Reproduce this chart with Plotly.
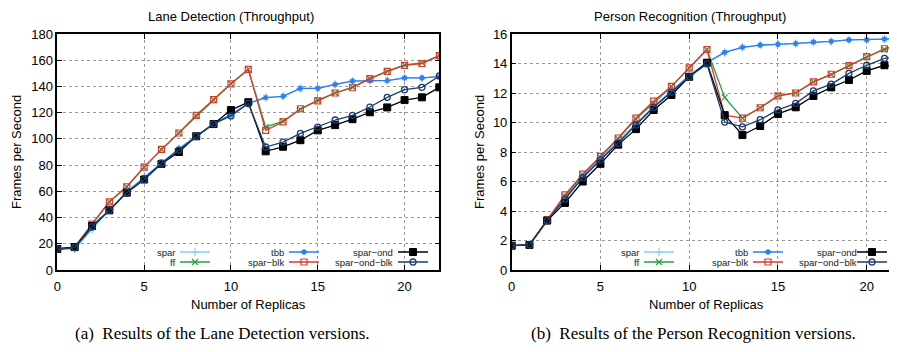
import plotly.graph_objects as go

# ---------------- data ----------------
replicas = list(range(23))
series_names = ["spar", "ff", "tbb", "spar−blk", "spar−ond", "spar−ond−blk"]

lane_spar = [16.0, 16.0, 31.0, 46.0, 59.5, 70.5, 81.5, 92.5, 102.0, 111.5, 118.5, 127.0, 131.5, 132.5, 138.5, 138.5, 141.5, 144.0, 144.5, 144.5, 146.5, 146.5, 147.5]
lane_ff = [16.0, 17.5, 35.0, 52.0, 63.5, 78.5, 92.0, 104.5, 117.5, 130.0, 142.0, 153.0, 109.0, 113.5, 122.5, 129.5, 135.0, 139.5, 146.0, 151.5, 156.5, 158.0, 163.5]
lane_tbb = [16.0, 16.5, 32.0, 46.0, 59.5, 70.5, 81.5, 92.5, 102.0, 111.5, 118.5, 127.0, 131.5, 132.5, 138.5, 138.5, 141.5, 144.0, 144.5, 144.5, 146.5, 146.5, 147.5]
lane_spar_blk = [16.0, 17.5, 35.0, 52.0, 63.5, 78.5, 92.0, 104.5, 118.0, 130.0, 142.0, 153.0, 106.5, 113.0, 123.0, 129.0, 135.0, 139.0, 146.0, 151.5, 156.0, 157.5, 163.5]
lane_spar_ond = [16.0, 17.5, 33.5, 45.5, 59.0, 69.0, 81.0, 90.0, 102.0, 111.3, 122.0, 128.0, 90.5, 94.0, 99.0, 106.5, 110.5, 115.0, 120.3, 124.0, 129.6, 131.7, 139.3]
lane_spar_ond_blk = [16.0, 17.0, 33.0, 45.5, 59.0, 69.0, 81.5, 91.5, 102.0, 111.5, 117.5, 127.0, 93.8, 97.6, 104.2, 109.0, 114.4, 118.0, 124.3, 131.7, 137.5, 139.3, 148.0]

person_spar = [1.65, 1.7, 3.35, 4.9, 6.35, 7.55, 8.7, 9.95, 11.1, 12.15, 13.2, 14.1, 14.75, 15.1, 15.25, 15.3, 15.35, 15.45, 15.5, 15.6, 15.6, 15.65, 15.7]
person_ff = [1.65, 1.7, 3.4, 5.0, 6.45, 7.65, 8.9, 10.25, 11.3, 12.45, 13.7, 14.95, 11.7, 10.3, 11.0, 11.8, 12.0, 12.75, 13.25, 13.85, 14.45, 14.95, 15.2]
person_tbb = [1.65, 1.7, 3.35, 4.85, 6.3, 7.5, 8.7, 9.9, 11.05, 12.1, 13.15, 14.05, 14.75, 15.1, 15.25, 15.3, 15.35, 15.45, 15.5, 15.6, 15.6, 15.65, 15.7]
person_spar_blk = [1.65, 1.7, 3.4, 5.1, 6.5, 7.7, 8.95, 10.3, 11.45, 12.45, 13.7, 14.95, 10.5, 10.3, 11.0, 11.8, 12.0, 12.75, 13.27, 13.85, 14.47, 15.0, 15.35]
person_spar_ond = [1.65, 1.7, 3.35, 4.55, 6.0, 7.2, 8.5, 9.55, 10.85, 11.87, 13.1, 14.05, 10.5, 9.15, 9.76, 10.58, 11.03, 11.8, 12.38, 12.88, 13.5, 13.88, 13.75]
person_spar_ond_blk = [1.65, 1.7, 3.35, 4.8, 6.26, 7.46, 8.6, 9.83, 11.03, 12.05, 13.1, 13.97, 10.03, 9.7, 10.19, 10.85, 11.3, 12.14, 12.6, 13.33, 13.88, 14.35, 14.45]

x_ticks = [0, 5, 10, 15, 20]
lane_yticks = list(range(0, 181, 20))
person_yticks = list(range(0, 17, 2))

titles = ["Lane Detection (Throughput)", "Person Recognition (Throughput)"]
x_title = "Number of Replicas"
y_title = "Frames per Second"
captions = ["(a)  Results of the Lane Detection versions.", "(b)  Results of the Person Recognition versions."]

# ---------------- geometry (page pixels; the page body has an 8px margin) ----------------
PAGE_W, PAGE_H = 897, 352
OFF = 8
W, H = PAGE_W - OFF, PAGE_H - OFF
def px(v):
    return (v - OFF) / W
def py(v):
    return 1 - (v - OFF) / H

styles = {
    "spar": dict(color="#8ecbf7", symbol="cross-thin", size=6, lw=1.2),
    "ff": dict(color="#23a33c", symbol="x-thin", size=6, lw=1.2),
    "tbb": dict(color="#2a7ef0", symbol="asterisk", size=5, lw=1.3),
    "spar−blk": dict(color="#d93a2a", symbol="square-open", size=6, lw=1.2),
    "spar−ond": dict(color="#000000", symbol="square", size=7, lw=1.0),
    "spar−ond−blk": dict(color="#1d3d6e", symbol="circle-open", size=6, lw=1.3),
}
grid_pos = {"spar": (0, 0), "tbb": (0, 1), "spar−ond": (0, 2),
            "ff": (1, 0), "spar−blk": (1, 1), "spar−ond−blk": (1, 2)}
key_starts = [180, 644]
col_step = 109
row_y = [252, 262]

lane = [lane_spar, lane_ff, lane_tbb, lane_spar_blk, lane_spar_ond, lane_spar_ond_blk]
person = [person_spar, person_ff, person_tbb, person_spar_blk, person_spar_ond, person_spar_ond_blk]

fig = go.Figure()
legend_layouts = {}
leg_n = 0
for k, (data, xa, ya) in enumerate([(lane, "x", "y"), (person, "x2", "y2")]):
    for name, vals in zip(series_names, data):
        s = styles[name]
        leg_n += 1
        leg_id = "legend" if leg_n == 1 else "legend%d" % leg_n
        r, c = grid_pos[name]
        key_x = key_starts[k] + col_step * c
        lx = key_x - 5
        anchor = "left"
        if lx + 50 > PAGE_W:
            lx, anchor = PAGE_W, "right"
        legend_layouts[leg_id] = dict(
            orientation="h", bgcolor="rgba(0,0,0,0)", borderwidth=0, font=dict(size=9),
            x=px(lx), y=py(row_y[r]), xanchor=anchor, yanchor="middle",
            itemclick=False, itemdoubleclick=False)
        mline = dict(color=s["color"], width=s["lw"])
        fig.add_trace(go.Scatter(
            x=replicas, y=vals, mode="lines+markers", name="",
            xaxis=xa, yaxis=ya, legend=leg_id, showlegend=True,
            line=dict(color=s["color"], width=1.3),
            marker=dict(symbol=s["symbol"], size=s["size"], color=s["color"], line=mline),
            hovertemplate=name + ": %{y}<extra></extra>",
        ))

axis_common = dict(
    showline=True, linecolor="black", linewidth=1.5,
    ticks="inside", ticklen=5, tickcolor="black", tickwidth=1,
    showgrid=True, gridcolor="#9a9a9a", griddash="dot", gridwidth=1,
    zeroline=False, tickfont=dict(size=13, color="black"), automargin=False,
)

x0_left, x1_left = 57.3, 439.3
x0_right = 511.7
unit_right = 17.75
y_top, y_bot = 34, 270

fig.update_layout(
    template="none",
    width=W, height=H,
    margin=dict(l=0, r=0, t=0, b=0, autoexpand=False),
    paper_bgcolor="white", plot_bgcolor="white",
    font=dict(family="Liberation Sans, Arial, sans-serif", color="black"),
    xaxis=dict(domain=[px(x0_left), px(x1_left)], range=[0, 22], tickvals=x_ticks,
               mirror="ticks", anchor="y", ticklabelstandoff=4, **axis_common),
    yaxis=dict(domain=[py(y_bot), py(y_top)], range=[0, 180], tickvals=lane_yticks,
               mirror="ticks", anchor="x", **axis_common),
    xaxis2=dict(domain=[px(x0_right), 1.0], range=[0, (PAGE_W - x0_right) / unit_right], tickvals=x_ticks,
                mirror="ticks", anchor="y2", ticklabelstandoff=4, **axis_common),
    yaxis2=dict(domain=[py(y_bot), py(y_top)], range=[0, 16], tickvals=person_yticks,
                mirror=False, anchor="x2", **axis_common),
    **legend_layouts,
)

annotations = []
label_rows = [["spar", "tbb", "spar−ond"], ["ff", "spar−blk", "spar−ond−blk"]]
for ks in key_starts:
    for r in range(2):
        for c in range(3):
            annotations.append(dict(
                text=label_rows[r][c], xref="paper", yref="paper",
                x=px(ks + col_step * c - 4), y=py(row_y[r]), xanchor="right", yanchor="middle",
                borderpad=0, showarrow=False, font=dict(size=9.5, color="#222")))

centers = [(x0_left + x1_left) / 2, (x0_right + x0_right + 22 * unit_right) / 2]
title_centers = [231, 690]
for i in range(2):
    annotations.append(dict(text=titles[i], xref="paper", yref="paper", x=px(title_centers[i]), y=1.0,
                            xanchor="center", yanchor="top", borderpad=0, showarrow=False, font=dict(size=13)))
    annotations.append(dict(text=x_title, xref="paper", yref="paper", x=px(centers[i]), y=py(304),
                            xanchor="center", yanchor="middle", showarrow=False, font=dict(size=13)))
y_title_x = [16, 479]
for i in range(2):
    annotations.append(dict(text=y_title, xref="paper", yref="paper", x=px(y_title_x[i]), y=py((y_top + y_bot) / 2),
                            xanchor="center", yanchor="middle", textangle=-90, showarrow=False, font=dict(size=13)))
caption_centers = [222, 693]
for i in range(2):
    annotations.append(dict(text=captions[i], xref="paper", yref="paper", x=px(caption_centers[i]), y=py(333),
                            xanchor="center", yanchor="middle", showarrow=False,
                            font=dict(size=17, family="Liberation Serif, Times New Roman, serif")))
fig.update_layout(annotations=annotations)

fig.write_html("out.html")
